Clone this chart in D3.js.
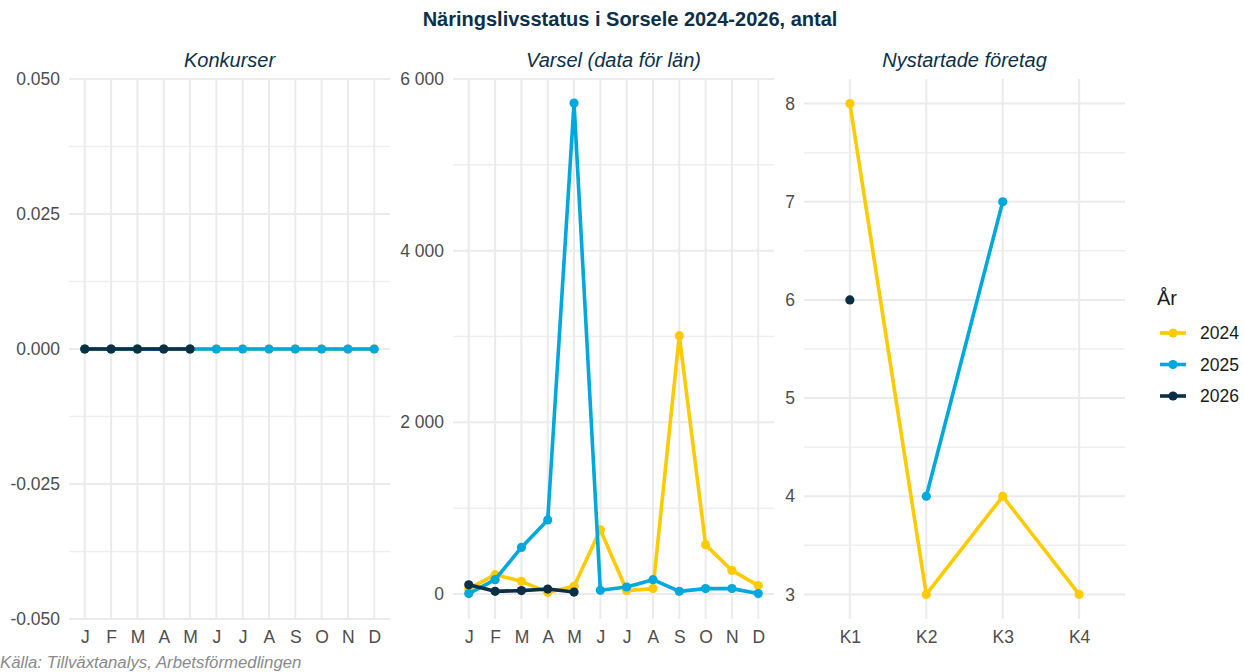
<!DOCTYPE html>
<html><head><meta charset="utf-8">
<script src="https://cdn.jsdelivr.net/npm/d3@7"></script>
<style>body{margin:0;background:#fff}svg{display:block}text{font-family:"Liberation Sans",Arial,sans-serif}</style>
</head><body><svg id="c" width="1244" height="672"></svg>
<script>
const years = ["2024","2025","2026"];
const yearColors = ["#FECB00","#00A8DE","#0B2F47"];
const months = ["J","F","M","A","M ","J ","J  ","A ","S","O","N","D"];
const monthLabels = ["J","F","M","A","M","J","J","A","S","O","N","D"];
const quarters = ["K1","K2","K3","K4"];

const konk2024 = [0,0,0,0,0,0,0,0,0,0,0,0];
const konk2025 = [0,0,0,0,0,0,0,0,0,0,0,0];
const konk2026 = [0,0,0,0,0];

const varsel2024 = [60,225,148,20,90,748,40,63,3010,573,275,98];
const varsel2025 = [5,167,543,863,5720,43,82,167,31,63,63,5];
const varsel2026 = [108,31,40,58,23];

const nyst2024 = [8,3,4,3];
const nyst2025 = [null,4,7,null];
const nyst2026 = [6,null,null,null];

const konkTicks = [0.05,0.025,0,-0.025,-0.05];
const konkMinor = [0.0375,0.0125,-0.0125,-0.0375];
const varselTicks = [0,2000,4000,6000];
const varselMinor = [1000,3000,5000];
const nystTicks = [3,4,5,6,7,8];
const nystMinor = [3.5,4.5,5.5,6.5,7.5];

const svg = d3.select("#c");
const yTop = 79, yBottom = 619;
const titleColor = "#0D3048";
const tickColor = "#4D4D4D";
const tickSize = 17.5;

svg.append("text").attr("x",630).attr("y",26).attr("text-anchor","middle")
  .attr("font-weight","bold").attr("font-size",20).attr("fill",titleColor)
  .text("Näringslivsstatus i Sorsele 2024-2026, antal");

svg.append("text").attr("x",0).attr("y",668).attr("font-style","italic")
  .attr("font-size",16.8).attr("fill","#8a8a8a")
  .text("Källa: Tillväxtanalys, Arbetsförmedlingen");

function panel(opts){
  const g = svg.append("g");
  const x = d3.scalePoint().domain(opts.cats).range([opts.x0, opts.x1]).padding(0.6);
  const y = d3.scaleLinear().domain(opts.ydom).range([yBottom, yTop]);
  g.selectAll(".mn").data(opts.minor).join("line")
    .attr("x1",opts.x0).attr("x2",opts.x1).attr("y1",d=>y(d)).attr("y2",d=>y(d))
    .attr("stroke","#EFEFEF").attr("stroke-width",1.5);
  g.selectAll(".mj").data(opts.ticks).join("line")
    .attr("x1",opts.x0).attr("x2",opts.x1).attr("y1",d=>y(d)).attr("y2",d=>y(d))
    .attr("stroke","#EBEBEB").attr("stroke-width",2);
  g.selectAll(".vg").data(opts.cats).join("line")
    .attr("x1",d=>x(d)).attr("x2",d=>x(d)).attr("y1",yTop).attr("y2",yBottom)
    .attr("stroke","#EBEBEB").attr("stroke-width",2);
  const ya = d3.axisLeft(y).tickValues(opts.ticks).tickSize(0).tickPadding(9).tickFormat(opts.fmt);
  const yg = g.append("g").attr("transform",`translate(${opts.x0},0)`).call(ya);
  yg.select(".domain").remove();
  yg.selectAll("text").attr("font-size",tickSize).attr("fill",tickColor).attr("font-family","Liberation Sans, Arial, sans-serif");
  const xa = d3.axisBottom(x).tickSize(0).tickPadding(12).tickFormat((d,i)=>opts.labels[i]);
  const xg = g.append("g").attr("transform",`translate(0,${yBottom})`).call(xa);
  xg.select(".domain").remove();
  xg.selectAll("text").attr("font-size",tickSize).attr("fill",tickColor).attr("font-family","Liberation Sans, Arial, sans-serif");
  g.append("text").attr("x",(opts.x0+opts.x1)/2).attr("y",67).attr("text-anchor","middle")
    .attr("font-style","italic").attr("font-size",20).attr("fill",titleColor).text(opts.title);
  opts.series.forEach((s,si)=>{
    const data = s.map((v,i)=>({c:opts.cats[i],v}));
    const pts = data.filter(d=>d.v!=null);
    const line = d3.line().defined(d=>d.v!=null).x(d=>x(d.c)).y(d=>y(d.v));
    g.append("path").datum(data).attr("d",line).attr("fill","none")
      .attr("stroke",yearColors[si]).attr("stroke-width",3.6).attr("stroke-linejoin","round");
    g.selectAll(null).data(pts).join("circle").attr("cx",d=>x(d.c)).attr("cy",d=>y(d.v))
      .attr("r",4.6).attr("fill",yearColors[si]);
  });
}

const fmtSpace = d => d3.format(",")(d).replace(/,/g," ");
const fmtKonk = d => d3.format(".3f")(d).replace("\u2212","-");
panel({x0:69,x1:390,cats:months,labels:monthLabels,ydom:[-0.05,0.05],ticks:konkTicks,minor:konkMinor,
  fmt:fmtKonk,title:"Konkurser",series:[konk2024,konk2025,konk2026]});
panel({x0:453,x1:774,cats:months,labels:monthLabels,ydom:[-291,6000],ticks:varselTicks,minor:varselMinor,
  fmt:fmtSpace,title:"Varsel (data för län)",series:[varsel2024,varsel2025,varsel2026]});
panel({x0:804,x1:1125,cats:quarters,labels:quarters,ydom:[2.75,8.25],ticks:nystTicks,minor:nystMinor,
  fmt:d3.format("d"),title:"Nystartade företag",series:[nyst2024,nyst2025,nyst2026]});

const lg = svg.append("g");
lg.append("text").attr("x",1157).attr("y",305).attr("font-size",20).attr("fill","#1a1a1a").text("År");
years.forEach((yr,i)=>{
  const yy = 333 + i*31.5;
  lg.append("line").attr("x1",1160).attr("x2",1186).attr("y1",yy).attr("y2",yy)
    .attr("stroke",yearColors[i]).attr("stroke-width",3.6);
  lg.append("circle").attr("cx",1173).attr("cy",yy).attr("r",4.6).attr("fill",yearColors[i]);
  lg.append("text").attr("x",1200).attr("y",yy+6).attr("font-size",17.5).attr("fill","#1a1a1a").text(yr);
});
</script></body></html>
